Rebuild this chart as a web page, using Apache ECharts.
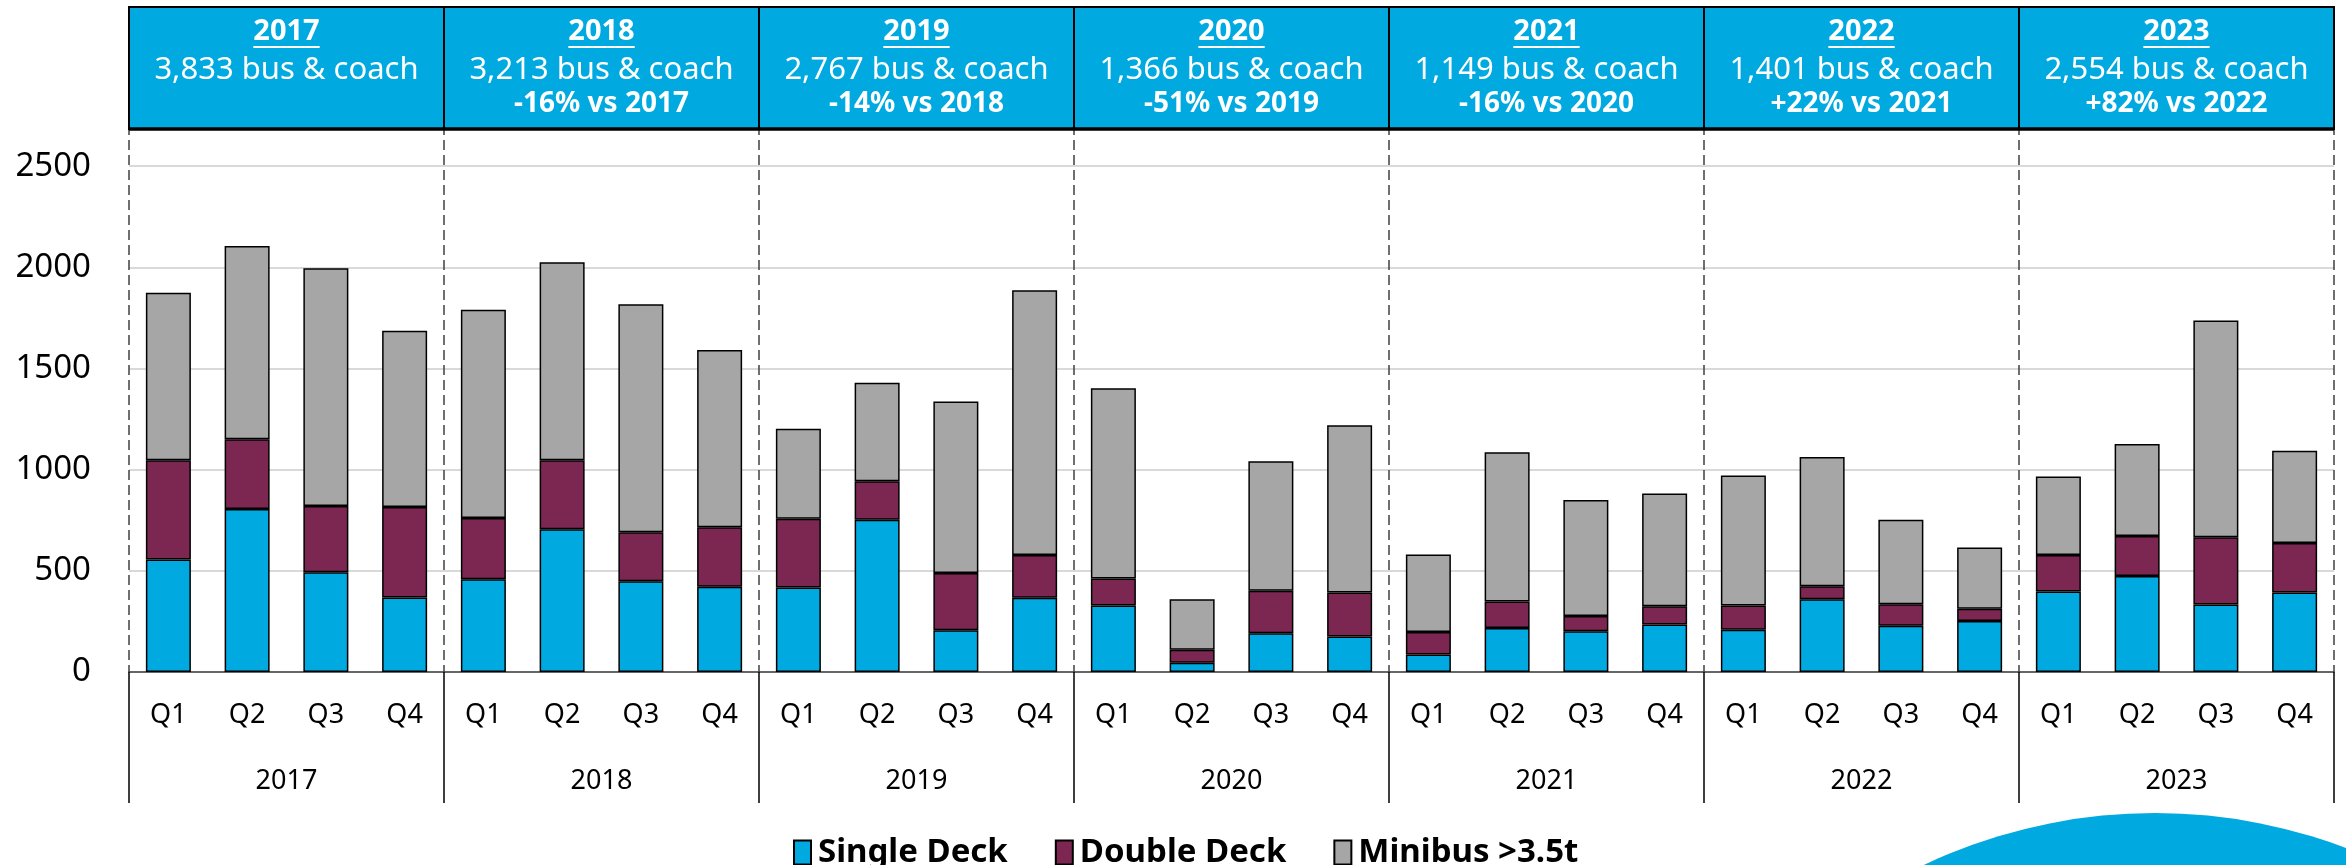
<!DOCTYPE html>
<html>
<head>
<meta charset="utf-8">
<script src="https://cdn.jsdelivr.net/npm/echarts@6/dist/echarts.min.js"></script>
<style>
  html, body { margin: 0; padding: 0; background: #fff; }
  #chart { width: 2346px; height: 865px; }
</style>
</head>
<body>
<div id="chart"></div>
<script>
// values
const years = ['2017', '2018', '2019', '2020', '2021', '2022', '2023'];
const quarters = ['Q1', 'Q2', 'Q3', 'Q4'];
const singleDeck = [
  556, 806, 493, 368,
  459, 706, 449, 421,
  418, 752, 206, 367,
  329, 46, 191, 176,
  87, 217, 202, 235,
  209, 359, 229, 252,
  398, 475, 334, 393
];
const doubleDeck = [
  491, 344, 327, 448,
  302, 340, 242, 294,
  339, 191, 283, 211,
  133, 64, 210, 217,
  111, 132, 75, 90,
  120, 65, 106, 61,
  180, 197, 332, 245
];
const minibus = [
  827, 955, 1175, 870,
  1029, 979, 1127, 876,
  445, 487, 848, 1309,
  940, 249, 640, 826,
  383, 737, 573, 557,
  642, 639, 418, 302,
  388, 455, 1071, 456
];
const busCoachTotals = [3833, 3213, 2767, 1366, 1149, 1401, 2554];
const yearChange = ['', '-16%', '-14%', '-51%', '-16%', '+22%', '+82%'];
const yTicks = [0, 500, 1000, 1500, 2000, 2500];

const BLUE = '#00A9E0';
const PURPLE = '#7B2751';
const GREY = '#A6A6A6';
const FONT = 'Noto Sans';

const categories = [];
years.forEach(y => quarters.forEach(q => categories.push(y + ' ' + q)));

// layout
const gridLeft = 129, gridRight = 12, gridTop = 65, gridBottom = 193;
const plotW = 2346 - gridLeft - gridRight;
const yearW = plotW / years.length;
const headTop = 7, headBottom = 129;

const measure = document.createElement('canvas').getContext('2d');
function textWidth(txt, font) {
  measure.font = font;
  return measure.measureText(txt).width;
}

function headerGraphics() {
  const els = [];
  els.push({
    type: 'rect', z: 100,
    shape: { x: gridLeft, y: headTop, width: plotW, height: headBottom - headTop },
    style: { fill: BLUE, stroke: '#000', lineWidth: 2 }
  });
  els.push({
    type: 'line', z: 101,
    shape: { x1: gridLeft, y1: headBottom, x2: gridLeft + plotW, y2: headBottom },
    style: { stroke: '#000', lineWidth: 3.5 }
  });
  years.forEach((y, i) => {
    const x0 = gridLeft + i * yearW;
    const cx = x0 + yearW / 2;
    if (i > 0) {
      els.push({
        type: 'line', z: 101,
        shape: { x1: x0, y1: headTop, x2: x0, y2: headBottom },
        style: { stroke: '#000', lineWidth: 2 }
      });
    }
    els.push({
      type: 'text', z: 102,
      style: {
        text: y, x: cx, y: 32, align: 'center', verticalAlign: 'middle',
        fill: '#fff', fontSize: 29, fontWeight: 'bold', fontFamily: FONT
      }
    });
    const w = textWidth(y, 'bold 29px "' + FONT + '"');
    els.push({
      type: 'line', z: 102,
      shape: { x1: cx - w / 2, y1: 47, x2: cx + w / 2, y2: 47 },
      style: { stroke: '#fff', lineWidth: 2 }
    });
    els.push({
      type: 'text', z: 102,
      style: {
        text: busCoachTotals[i].toLocaleString('en-US') + ' bus & coach',
        x: cx, y: 70, align: 'center', verticalAlign: 'middle',
        fill: '#fff', fontSize: 31, fontFamily: FONT
      }
    });
    if (yearChange[i]) {
      els.push({
        type: 'text', z: 102,
        style: {
          text: yearChange[i] + ' vs ' + years[i - 1],
          x: cx, y: 104, align: 'center', verticalAlign: 'middle',
          fill: '#fff', fontSize: 28, fontWeight: 'bold', fontFamily: FONT
        }
      });
    }
  });
  // decorative blue shape, bottom right
  els.push({
    type: 'circle', z: 0,
    shape: { cx: 2155, cy: 1353, r: 540 },
    style: { fill: BLUE }
  });
  return els;
}

const barStyle = color => ({ color: color, borderColor: '#000', borderWidth: 1.5 });

const chart = echarts.init(document.getElementById('chart'));
chart.setOption({
  animation: false,
  textStyle: { fontFamily: FONT },
  grid: { left: gridLeft, right: gridRight, top: gridTop, bottom: gridBottom },
  legend: {
    left: 788, top: 831,
    itemWidth: 17, itemHeight: 24, itemGap: 47,
    icon: 'rect',
    textStyle: { fontSize: 33, fontWeight: 'bold', color: '#000', padding: [0, 0, 0, 2] },
    data: ['Single Deck', 'Double Deck', 'Minibus >3.5t']
  },
  xAxis: [
    {
      type: 'category', data: categories,
      axisLine: { lineStyle: { color: '#404040', width: 1.5 } },
      axisTick: { show: false },
      axisLabel: {
        interval: 0, fontSize: 27, color: '#000', margin: 30,
        formatter: v => v.split(' ')[1]
      },
      splitLine: { show: false }
    },
    {
      type: 'category', data: years, position: 'bottom', offset: 0,
      axisLine: { show: false },
      axisTick: { show: true, interval: 0, length: 131, lineStyle: { color: '#000', width: 1.5 } },
      axisLabel: { interval: 0, fontSize: 27, color: '#000', margin: 96 },
      splitLine: {
        show: true, interval: 0,
        lineStyle: { color: '#404040', width: 1.5, type: [10, 5] }
      }
    }
  ],
  yAxis: {
    type: 'value', min: 0, max: 3000, interval: 500,
    axisLine: { show: false },
    axisTick: { show: false },
    axisLabel: {
      fontSize: 33, color: '#000', margin: 38,
      formatter: v => (yTicks.indexOf(v) >= 0 ? String(v) : '')
    },
    splitLine: { lineStyle: { color: '#D9D9D9', width: 2 } }
  },
  series: [
    { name: 'Single Deck', type: 'bar', stack: 'total', barWidth: 45, itemStyle: barStyle(BLUE), data: singleDeck },
    { name: 'Double Deck', type: 'bar', stack: 'total', barWidth: 45, itemStyle: barStyle(PURPLE), data: doubleDeck },
    { name: 'Minibus >3.5t', type: 'bar', stack: 'total', barWidth: 45, itemStyle: barStyle(GREY), data: minibus }
  ],
  graphic: headerGraphics()
});
</script>
</body>
</html>
